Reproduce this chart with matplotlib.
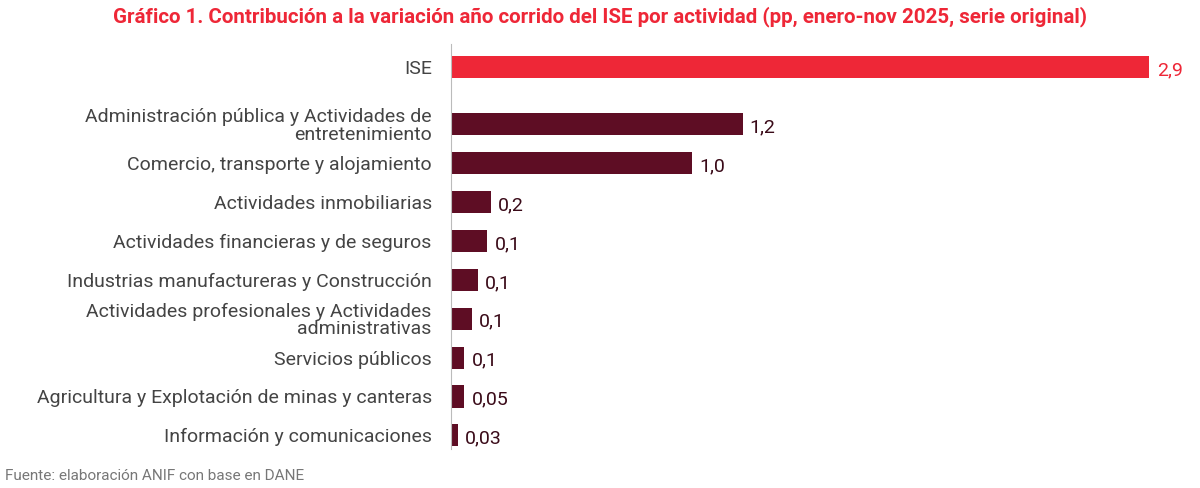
import matplotlib.pyplot as plt
import numpy as np

plt.rcParams['font.family'] = ['Roboto', 'DejaVu Sans']

categories = ['ISE',
              'Administración pública y Actividades de\nentretenimiento',
              'Comercio, transporte y alojamiento',
              'Actividades inmobiliarias',
              'Actividades financieras y de seguros',
              'Industrias manufactureras y Construcción',
              'Actividades profesionales y Actividades\nadministrativas',
              'Servicios públicos',
              'Agricultura y Explotación de minas y canteras',
              'Información y comunicaciones']
values = [2.9, 1.21, 1.0, 0.165, 0.15, 0.11, 0.085, 0.055, 0.055, 0.028]
value_labels = ['2,9', '1,2', '1,0', '0,2', '0,1', '0,1', '0,1', '0,1', '0,05', '0,03']

red = '#EE2737'
dark = '#5E0D24'
colors = [red] + [dark] * (len(values) - 1)

ypos = np.arange(len(values), dtype=float)
ypos[1:] += 0.47

fig = plt.figure(figsize=(12, 4.88), dpi=100)
ax = fig.add_axes([0.376, 0.08, 0.616, 0.83])
ax.barh(ypos, values, height=0.57, color=colors)
for y, v, lab, c in zip(ypos, values, value_labels, colors):
    ax.text(v + 0.03, y + 0.08, lab, va='center', ha='left', fontsize=14,
            color=c if c == red else '#3a0a18')

ax.set_yticks(ypos)
ax.set_yticklabels(categories, fontsize=14, color='#444444', linespacing=0.95)
ax.tick_params(axis='y', length=0, pad=14)
ax.set_xticks([])
ax.set_xlim(0, 3.07)
ax.set_ylim(ypos[-1] + 0.35, -0.6)
for s in ['top', 'right', 'bottom']:
    ax.spines[s].set_visible(False)
ax.spines['left'].set_color('#bbbbbb')

fig.text(0.5, 0.965, 'Gráfico 1. Contribución a la variación año corrido del ISE por actividad (pp, enero-nov 2025, serie original)',
         ha='center', va='center', fontsize=14.8, fontweight='bold', color=red)
fig.text(0.004, 0.01, 'Fuente: elaboración ANIF con base en DANE', fontsize=11,
         color='#777777', ha='left', va='bottom')

fig.savefig('out.png', dpi=100)
